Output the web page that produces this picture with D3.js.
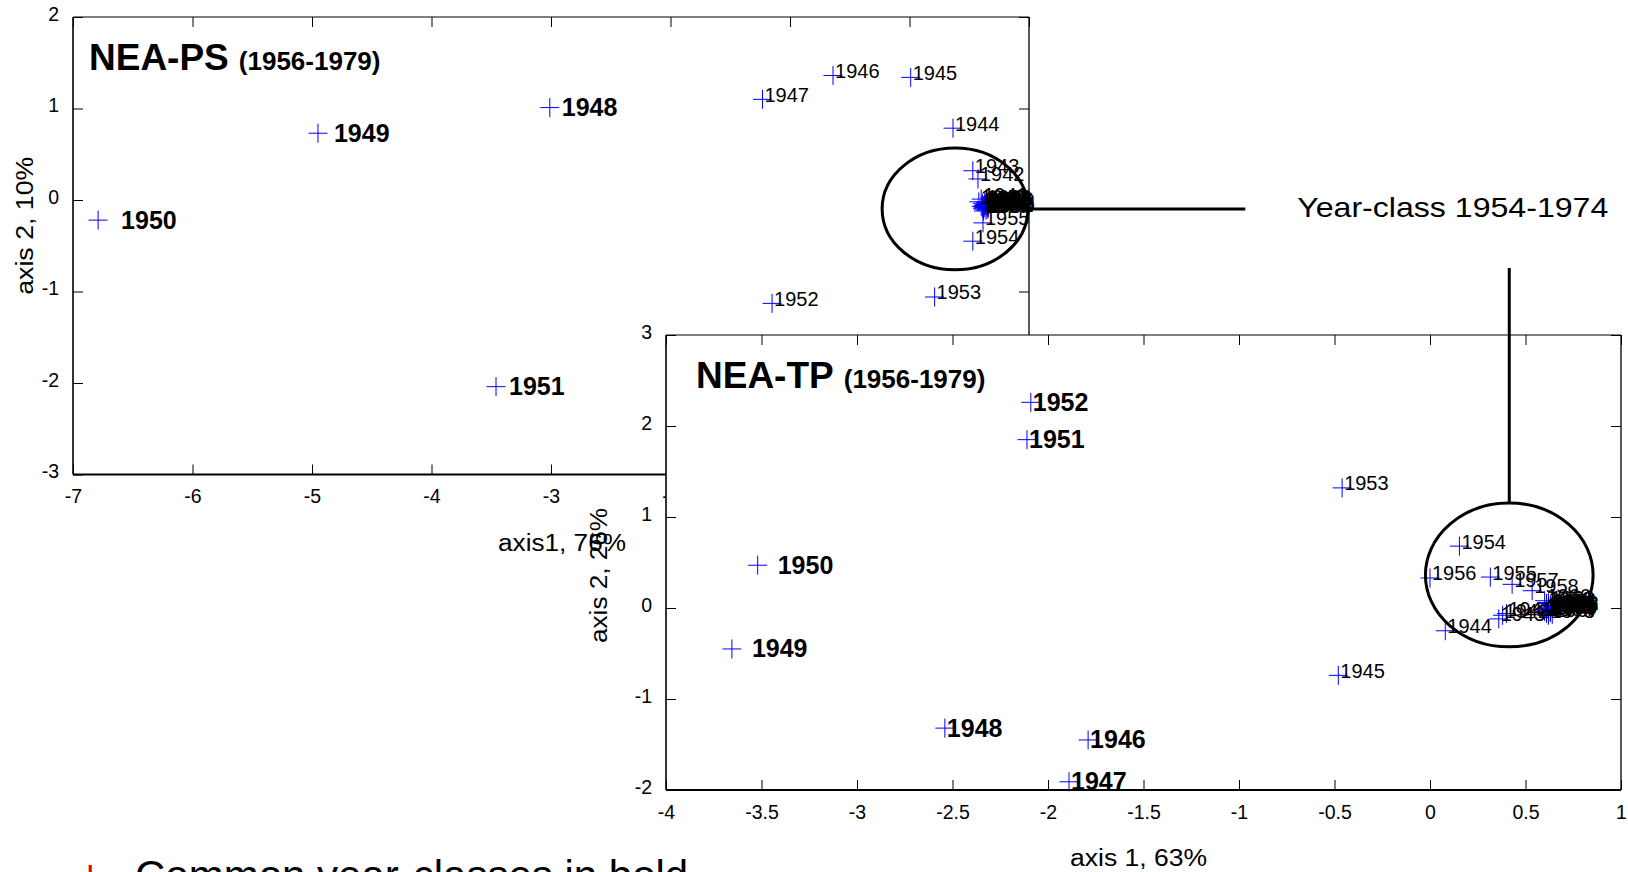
<!DOCTYPE html>
<html>
<head>
<meta charset="utf-8">
<script src="https://cdn.jsdelivr.net/npm/d3@7"></script>
<style>
  html, body { margin: 0; padding: 0; background: #fff; }
  svg { display: block; font-family: "Liberation Sans", Arial, sans-serif; }
</style>
</head>
<body>
<svg id="chart" width="1628" height="872"></svg>
<script>
// ---- NEA-PS: year-class scores on the first two PCA axes ----
const psYears = [1940, 1941, 1942, 1943, 1944, 1945, 1946, 1947, 1948, 1949, 1950, 1951, 1952, 1953, 1954, 1955,
                 1956, 1957, 1958, 1959, 1960, 1961, 1962, 1963, 1964, 1965, 1966, 1967, 1968, 1969, 1970, 1971, 1972, 1973, 1974];
const psAxis1 = [0.58, 0.60, 0.573, 0.53, 0.364, 0.01, -0.64, -1.23, -3.01, -4.95, -6.79, -3.46, -1.15, 0.21, 0.53, 0.615,
                 0.62, 0.63, 0.61, 0.64, 0.62, 0.65, 0.63, 0.66, 0.64, 0.60, 0.65, 0.62, 0.66, 0.63, 0.61, 0.64, 0.65, 0.62, 0.63];
const psAxis2 = [-0.02, 0.01, 0.23, 0.32, 0.785, 1.34, 1.36, 1.10, 1.01, 0.73, -0.22, -2.04, -1.13, -1.06, -0.45, -0.25,
                 -0.06, -0.08, -0.04, -0.05, -0.10, -0.07, -0.02, -0.09, -0.11, -0.07, -0.04, -0.12, -0.06, -0.05, -0.09, -0.03, -0.10, -0.08, -0.06];
const psBold = [1948, 1949, 1950, 1951];

// ---- NEA-TP: year-class scores on the first two PCA axes ----
const tpYears = [1940, 1941, 1942, 1943, 1944, 1945, 1946, 1947, 1948, 1949, 1950, 1951, 1952, 1953, 1954, 1955,
                 1956, 1957, 1958, 1959, 1960, 1961, 1962, 1963, 1964, 1965, 1966, 1967, 1968, 1969, 1970, 1971, 1972, 1973, 1974];
const tpAxis1 = [0.60, 0.40, 0.38, 0.36, 0.08, -0.48, -1.79, -1.89, -2.54, -3.655, -3.52, -2.11, -2.09, -0.46, 0.154, 0.316,
                 0.0, 0.43, 0.535, 0.61, 0.60, 0.63, 0.62, 0.64, 0.61, 0.63, 0.62, 0.64, 0.60, 0.62, 0.63, 0.61, 0.64, 0.62, 0.63];
const tpAxis2 = [-0.04, -0.06, -0.08, -0.12, -0.25, -0.74, -1.45, -1.91, -1.32, -0.45, 0.47, 1.85, 2.26, 1.32, 0.68, 0.34,
                 0.33, 0.26, 0.19, 0.05, 0.08, 0.00, -0.03, -0.01, -0.06, -0.04, 0.02, -0.07, -0.02, 0.06, -0.05, -0.01, 0.01, -0.08, 0.03];
const tpBold = [1946, 1947, 1948, 1949, 1950, 1951, 1952];

// ---- axis ticks ----
const psXTicks = [-7, -6, -5, -4, -3, -2, -1, 0, 1];
const psYTicks = [-3, -2, -1, 0, 1, 2];
const tpXTicks = [-4, -3.5, -3, -2.5, -2, -1.5, -1, -0.5, 0, 0.5, 1];
const tpYTicks = [-2, -1, 0, 1, 2, 3];

// ---- texts ----
const psTitle = "NEA-PS", psPeriod = "(1956-1979)";
const tpTitle = "NEA-TP", tpPeriod = "(1956-1979)";
const psXLabel = "axis1, 76%", psYLabel = "axis 2, 10%";
const tpXLabel = "axis 1, 63%", tpYLabel = "axis 2, 26%";
const groupLabel = "Year-class 1954-1974";
const footnote = "Common year-classes in bold";

// ---- annotation ellipses (data units of each panel) ----
const psGroup = { cx: 0.381, cy: -0.098, rx: 0.61, ry: 0.665, leaderTo: 2.81 };
const tpGroup = { cx: 0.415, cy: 0.363, rx: 0.439, ry: 0.79, leaderTo: 3.736 };

// ---- label nudges for the bold year-class labels ----
const boldLabelGap = { PS: { 1948: 12, 1949: 16, 1950: 23, 1951: 13 }, TP: { 1949: 20, 1950: 20 } };

const svg = d3.select("#chart");
const FONT = 19.5;

function fmt(d) { return String(d); }

function drawPanel(cfg) {
  const { frame, x, y, xTicks, yTicks, years, a1, a2, bold, key } = cfg;
  const g = svg.append("g");

  if (cfg.fill) {
    g.append("rect")
      .attr("x", frame.left).attr("y", frame.top)
      .attr("width", frame.right - frame.left).attr("height", frame.bottom - frame.top)
      .attr("fill", "#fff");
  }

  // inward ticks on all four sides
  const bottom = g.append("g").attr("transform", `translate(0,${frame.bottom})`)
    .call(d3.axisBottom(x).tickValues(xTicks).tickFormat(fmt).tickSize(-10).tickSizeOuter(0).tickPadding(15));
  const left = g.append("g").attr("transform", `translate(${frame.left},0)`)
    .call(d3.axisLeft(y).tickValues(yTicks).tickFormat(fmt).tickSize(-10).tickSizeOuter(0).tickPadding(14));
  const top = g.append("g").attr("transform", `translate(0,${frame.top})`)
    .call(d3.axisTop(x).tickValues(xTicks).tickFormat("").tickSize(-10).tickSizeOuter(0));
  const right = g.append("g").attr("transform", `translate(${frame.right},0)`)
    .call(d3.axisRight(y).tickValues(yTicks).tickFormat("").tickSize(-10).tickSizeOuter(0));

  [bottom, left, top, right].forEach(ax => {
    ax.select(".domain").remove();
    ax.selectAll(".tick line").attr("stroke", "#000").attr("stroke-width", 1);
    ax.selectAll(".tick text").attr("fill", "#000")
      .style("font-size", FONT + "px").style("font-family", '"Liberation Sans", Arial, sans-serif');
  });
  left.selectAll(".tick text").attr("dy", "0.17em");

  // frame
  const line = (x1, y1, x2, y2, w) => g.append("line")
    .attr("x1", x1).attr("y1", y1).attr("x2", x2).attr("y2", y2)
    .attr("stroke", "#000").attr("stroke-width", w);
  line(frame.left, frame.top, frame.right, frame.top, 1);
  line(frame.right, frame.top, frame.right, frame.bottom, 1.3);
  line(frame.left, frame.top, frame.left, frame.bottom, 1.6);
  line(frame.left, frame.bottom, frame.right, frame.bottom, 2);

  // title
  const t = g.append("text")
    .attr("x", frame.left + cfg.titleDx).attr("y", frame.top + 53)
    .attr("font-weight", "bold").attr("fill", "#000");
  t.append("tspan").attr("font-size", 37).text(cfg.title);
  t.append("tspan").attr("font-size", 26).attr("dx", 10).text(cfg.period);

  // points
  const pts = years.map((yr, i) => ({ yr, px: x(a1[i]), py: y(a2[i]), bold: bold.includes(yr) }));
  g.append("g").selectAll("path").data(pts).join("path")
    .attr("d", d => `M${d.px - 9.5},${d.py}H${d.px + 9.5}M${d.px},${d.py - 9.5}V${d.py + 9.5}`)
    .attr("stroke", "#0000ff").attr("stroke-width", 1).attr("fill", "none");

  g.append("g").selectAll("text").data(pts).join("text")
    .attr("x", d => d.px + (d.bold ? (boldLabelGap[key][d.yr] ?? 2) : 2))
    .attr("y", d => d.py + (d.bold ? 8.5 : 2.5))
    .attr("font-size", d => d.bold ? 25 : 20)
    .attr("font-weight", d => d.bold ? "bold" : "normal")
    .attr("fill", "#000")
    .text(d => d.yr);

  return g;
}

function axisTitle(txt, px, py, len, rotate) {
  const tx = svg.append("text")
    .attr("font-size", 23).attr("fill", "#000").attr("text-anchor", "middle")
    .attr("textLength", len).attr("lengthAdjust", "spacingAndGlyphs")
    .text(txt);
  if (rotate) tx.attr("transform", `translate(${px},${py}) rotate(-90)`);
  else tx.attr("x", px).attr("y", py);
}

// ---- NEA-PS panel ----
const psFrame = { left: 73, right: 1029, top: 17, bottom: 474.5 };
const psX = d3.scaleLinear().domain([-7, 1]).range([psFrame.left, psFrame.right]);
const psY = d3.scaleLinear().domain([-3, 2]).range([psFrame.bottom, psFrame.top]);
drawPanel({ key: "PS", frame: psFrame, x: psX, y: psY, xTicks: psXTicks, yTicks: psYTicks,
  years: psYears, a1: psAxis1, a2: psAxis2, bold: psBold, title: psTitle, period: psPeriod, titleDx: 16 });
axisTitle(psXLabel, (psFrame.left + psFrame.right) / 2 + 11, psFrame.bottom + 76.5, 128, false);
axisTitle(psYLabel, psFrame.left - 40, (psFrame.top + psFrame.bottom) / 2 - 20, 138, true);

// ---- NEA-TP panel (drawn over the lower right of NEA-PS) ----
const tpFrame = { left: 666, right: 1621, top: 335, bottom: 790 };
const tpX = d3.scaleLinear().domain([-4, 1]).range([tpFrame.left, tpFrame.right]);
const tpY = d3.scaleLinear().domain([-2, 3]).range([tpFrame.bottom, tpFrame.top]);
drawPanel({ key: "TP", frame: tpFrame, x: tpX, y: tpY, xTicks: tpXTicks, yTicks: tpYTicks,
  years: tpYears, a1: tpAxis1, a2: tpAxis2, bold: tpBold, title: tpTitle, period: tpPeriod, titleDx: 30, fill: true });
axisTitle(tpXLabel, (tpFrame.left + tpFrame.right) / 2 - 5, tpFrame.bottom + 76, 137, false);
axisTitle(tpYLabel, tpFrame.left - 59, (tpFrame.top + tpFrame.bottom) / 2 + 13, 135, true);

// ---- year-class 1954-1974 groups ----
const ann = svg.append("g").attr("fill", "none").attr("stroke", "#000").attr("stroke-width", 3);
const psCx = psX(psGroup.cx), psCy = psY(psGroup.cy);
const psRx = psX(psGroup.cx + psGroup.rx) - psCx, psRy = psCy - psY(psGroup.cy + psGroup.ry);
ann.append("ellipse").attr("cx", psCx).attr("cy", psCy).attr("rx", psRx).attr("ry", psRy);
const leaderEnd = psX(psGroup.leaderTo);
ann.append("line").attr("x1", psCx + psRx).attr("y1", psCy).attr("x2", leaderEnd).attr("y2", psCy);

const tpCx = tpX(tpGroup.cx), tpCy = tpY(tpGroup.cy);
const tpRx = tpX(tpGroup.cx + tpGroup.rx) - tpCx, tpRy = tpCy - tpY(tpGroup.cy + tpGroup.ry);
ann.append("ellipse").attr("cx", tpCx).attr("cy", tpCy).attr("rx", tpRx).attr("ry", tpRy);
ann.append("line").attr("x1", tpCx).attr("y1", tpCy - tpRy).attr("x2", tpCx).attr("y2", tpY(tpGroup.leaderTo));

svg.append("text")
  .attr("x", leaderEnd + 52).attr("y", psCy + 8)
  .attr("font-size", 28).attr("fill", "#000")
  .attr("textLength", 311).attr("lengthAdjust", "spacingAndGlyphs")
  .text(groupLabel);

// ---- footnote along the lower edge ----
svg.append("text").attr("x", 78).attr("y", 890).attr("font-size", 42).attr("fill", "#e00000").text("+");
svg.append("text").attr("x", 135).attr("y", 890).attr("font-size", 42).attr("fill", "#000").text(footnote);
</script>
</body>
</html>
